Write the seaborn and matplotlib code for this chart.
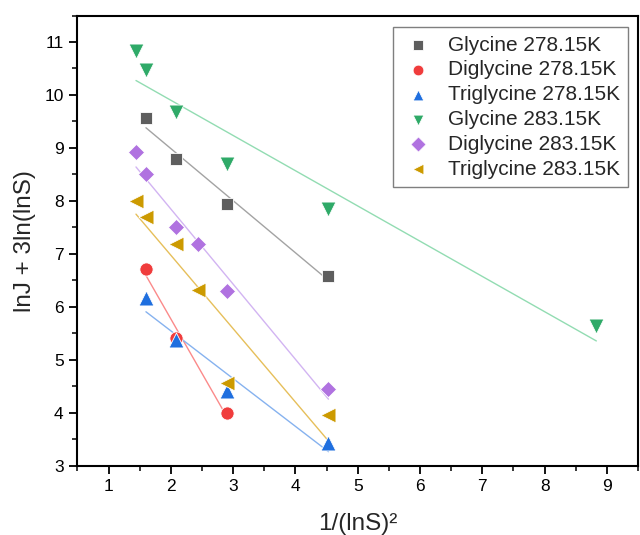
import numpy as np
import pandas as pd
import matplotlib
matplotlib.use("Agg")
import matplotlib.pyplot as plt
import seaborn as sns
from matplotlib.ticker import MultipleLocator

# data
series = ["Glycine 278.15K", "Diglycine 278.15K", "Triglycine 278.15K",
          "Glycine 283.15K", "Diglycine 283.15K", "Triglycine 283.15K"]

gly278_x = [1.60, 2.08, 2.90, 4.53]
gly278_y = [9.57, 8.79, 7.94, 6.59]
digly278_x = [1.60, 2.08, 2.90]
digly278_y = [6.71, 5.42, 3.99]
trigly278_x = [1.60, 2.08, 2.90, 4.53]
trigly278_y = [6.16, 5.38, 4.42, 3.42]
gly283_x = [1.44, 1.60, 2.08, 2.90, 4.53, 8.83]
gly283_y = [10.83, 10.47, 9.68, 8.70, 7.84, 5.64]
digly283_x = [1.44, 1.60, 2.08, 2.43, 2.90, 4.53]
digly283_y = [8.92, 8.51, 7.50, 7.18, 6.29, 4.45]
trigly283_x = [1.44, 1.60, 2.08, 2.43, 2.90, 4.53]
trigly283_y = [8.00, 7.69, 7.18, 6.31, 4.57, 3.96]

xs = [gly278_x, digly278_x, trigly278_x, gly283_x, digly283_x, trigly283_x]
ys = [gly278_y, digly278_y, trigly278_y, gly283_y, digly283_y, trigly283_y]

colors = ["#5e5e5e", "#f03c3c", "#1f6fdf", "#2faa68", "#b072e0", "#cc9a00"]
line_colors = ["#a3a3a3", "#fb8a8a", "#86b2ef", "#92dcb2", "#d2b4f2", "#e6bf5a"]
markers = ["s", "o", "^", "v", "D", "<"]
sizes = [72, 90, 115, 115, 68, 115]

df = pd.concat([pd.DataFrame({"x": x, "y": y, "series": s})
                for x, y, s in zip(xs, ys, series)], ignore_index=True)

sns.set_style("white")
plt.rcParams["font.family"] = ["Liberation Sans", "DejaVu Sans"]

fig = plt.figure(figsize=(6.4, 5.35), dpi=100)
ax = fig.add_axes([0.12, 0.1295, 0.877, 0.8415])

# linear fits
for s, c in zip(series, line_colors):
    sub = df[df.series == s]
    sns.regplot(data=sub, x="x", y="y", ax=ax, scatter=False, ci=None,
                truncate=True, color=c, line_kws={"lw": 1, "zorder": 2})

for s, c, m, sz in zip(series, colors, markers, sizes):
    sub = df[df.series == s]
    ax.scatter(sub.x, sub.y, s=sz, marker=m, color=c, edgecolor="white",
               linewidth=0.6, label=s, zorder=3)

ax.set_xlim(0.49, 9.5)
ax.set_ylim(3, 11.5)
ax.xaxis.set_major_locator(MultipleLocator(1))
ax.xaxis.set_minor_locator(MultipleLocator(0.5))
ax.yaxis.set_major_locator(MultipleLocator(1))
ax.yaxis.set_minor_locator(MultipleLocator(0.5))
ax.tick_params(axis="both", which="major", direction="out", length=6, width=1.3,
               labelsize=12.5, colors="black", bottom=True, left=True, top=False, right=False)
ax.tick_params(axis="both", which="minor", direction="out", length=3.5, width=1.3,
               bottom=True, left=True, top=False, right=False)
for sp in ax.spines.values():
    sp.set_color("black")
    sp.set_linewidth(1.5)

ax.set_xlabel("1/(lnS)²", fontsize=17.5, labelpad=14)
ax.set_ylabel("lnJ + 3ln(lnS)", fontsize=17.5, labelpad=6)

leg = ax.legend(loc="upper right", bbox_to_anchor=(0.982, 0.974), borderaxespad=0,
                fontsize=15, frameon=True, fancybox=False, edgecolor="#7f7f7f",
                framealpha=1, handletextpad=0.6, labelspacing=0.28, borderpad=0.4,
                handlelength=1.6, scatterpoints=1)
leg.get_frame().set_linewidth(1.0)
for h in leg.legend_handles:
    h.set_sizes([60])

fig.savefig("out.png", dpi=100)
